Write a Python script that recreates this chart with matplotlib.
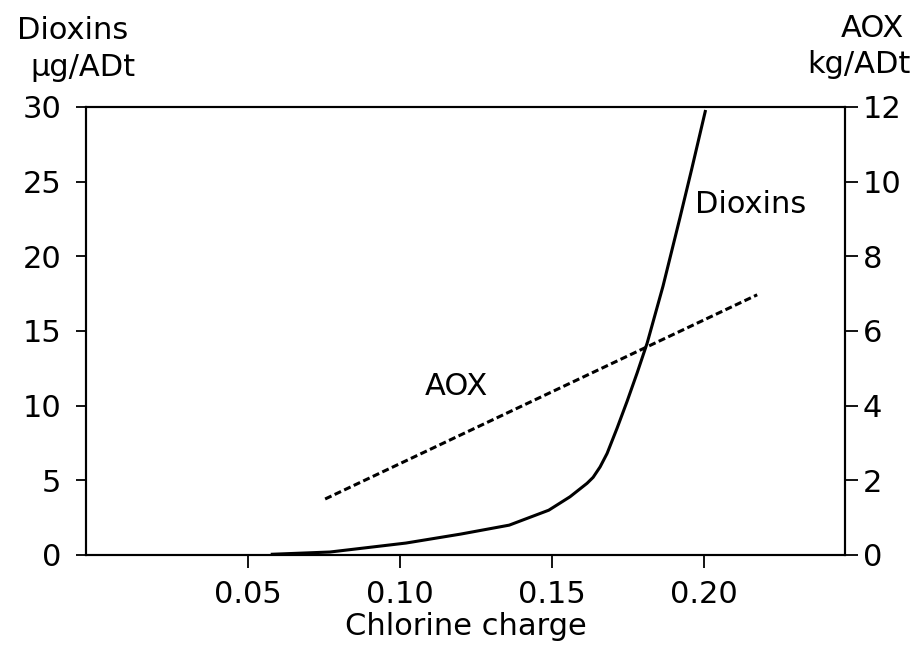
import matplotlib
matplotlib.use('Agg')
import matplotlib.pyplot as plt

plt.rcParams['font.family'] = ['DejaVu Sans']

# Data
dioxin_x = [0.058, 0.077, 0.102, 0.120, 0.136, 0.149, 0.156, 0.1616,
            0.1636, 0.1659, 0.1682, 0.1715, 0.1748, 0.1781, 0.1814,
            0.1866, 0.1922, 0.1960, 0.2005]
dioxin_y = [0.05, 0.2, 0.8, 1.4, 2.0, 3.0, 3.9, 4.8,
            5.2, 5.9, 6.8, 8.5, 10.3, 12.2, 14.2,
            18.0, 22.6, 25.8, 29.7]               # µg/ADt (left axis)

aox_x = [0.0754, 0.2176]
aox_y = [1.5, 6.97]                                # kg/ADt (right axis)

x_ticks = [0.05, 0.10, 0.15, 0.20]
x_ticklabels = ['0.05', '0.10', '0.15', '0.20']
left_ticks = [0, 5, 10, 15, 20, 25, 30]
right_ticks = [0, 2, 4, 6, 8, 10, 12]

W, H = 921, 661
fig = plt.figure(figsize=(W / 100, H / 100), dpi=100)
ax = fig.add_axes([86 / W, 1 - 555 / H, (845 - 86) / W, (555 - 107) / H])
ax2 = ax.twinx()

ax.plot(dioxin_x, dioxin_y, color='k', lw=2.2, solid_joinstyle='round')
ln, = ax2.plot(aox_x, aox_y, color='k', lw=2.2, dash_capstyle='butt')
ln.set_dashes([2.3, 1.15])

ax.set_xlim(-0.0033, 0.2465)
ax.set_ylim(0, 30)
ax2.set_ylim(0, 12)

ax.set_xticks(x_ticks)
ax.set_xticklabels(x_ticklabels)
ax.set_yticks(left_ticks)
ax2.set_yticks(right_ticks)

for a in (ax, ax2):
    for s in a.spines.values():
        s.set_linewidth(1.5)
ax.tick_params(axis='x', direction='out', length=9, width=1.3,
               labelsize=22, pad=9)
ax.tick_params(axis='y', direction='out', length=7, width=1.3,
               labelsize=22, pad=11)
ax2.tick_params(axis='y', direction='out', length=9, width=1.3,
                labelsize=22, pad=4)

ax.set_xlabel('Chlorine charge', fontsize=22, labelpad=2)

# axis headers
fig.text(17 / W, 1 - 39 / H, 'Dioxins', fontsize=22, ha='left', va='baseline')
fig.text(30 / W, 1 - 76 / H, 'µg/ADt', fontsize=22, ha='left', va='baseline')
fig.text(904 / W, 1 - 37 / H, 'AOX', fontsize=22, ha='right', va='baseline')
fig.text(911 / W, 1 - 73 / H, 'kg/ADt', fontsize=22, ha='right', va='baseline')

# curve labels
ax.text(0.1083, 10.7, 'AOX', fontsize=22, ha='left', va='baseline')
ax.text(0.1972, 22.9, 'Dioxins', fontsize=22, ha='left', va='baseline')

fig.savefig('out.png', dpi=100)
